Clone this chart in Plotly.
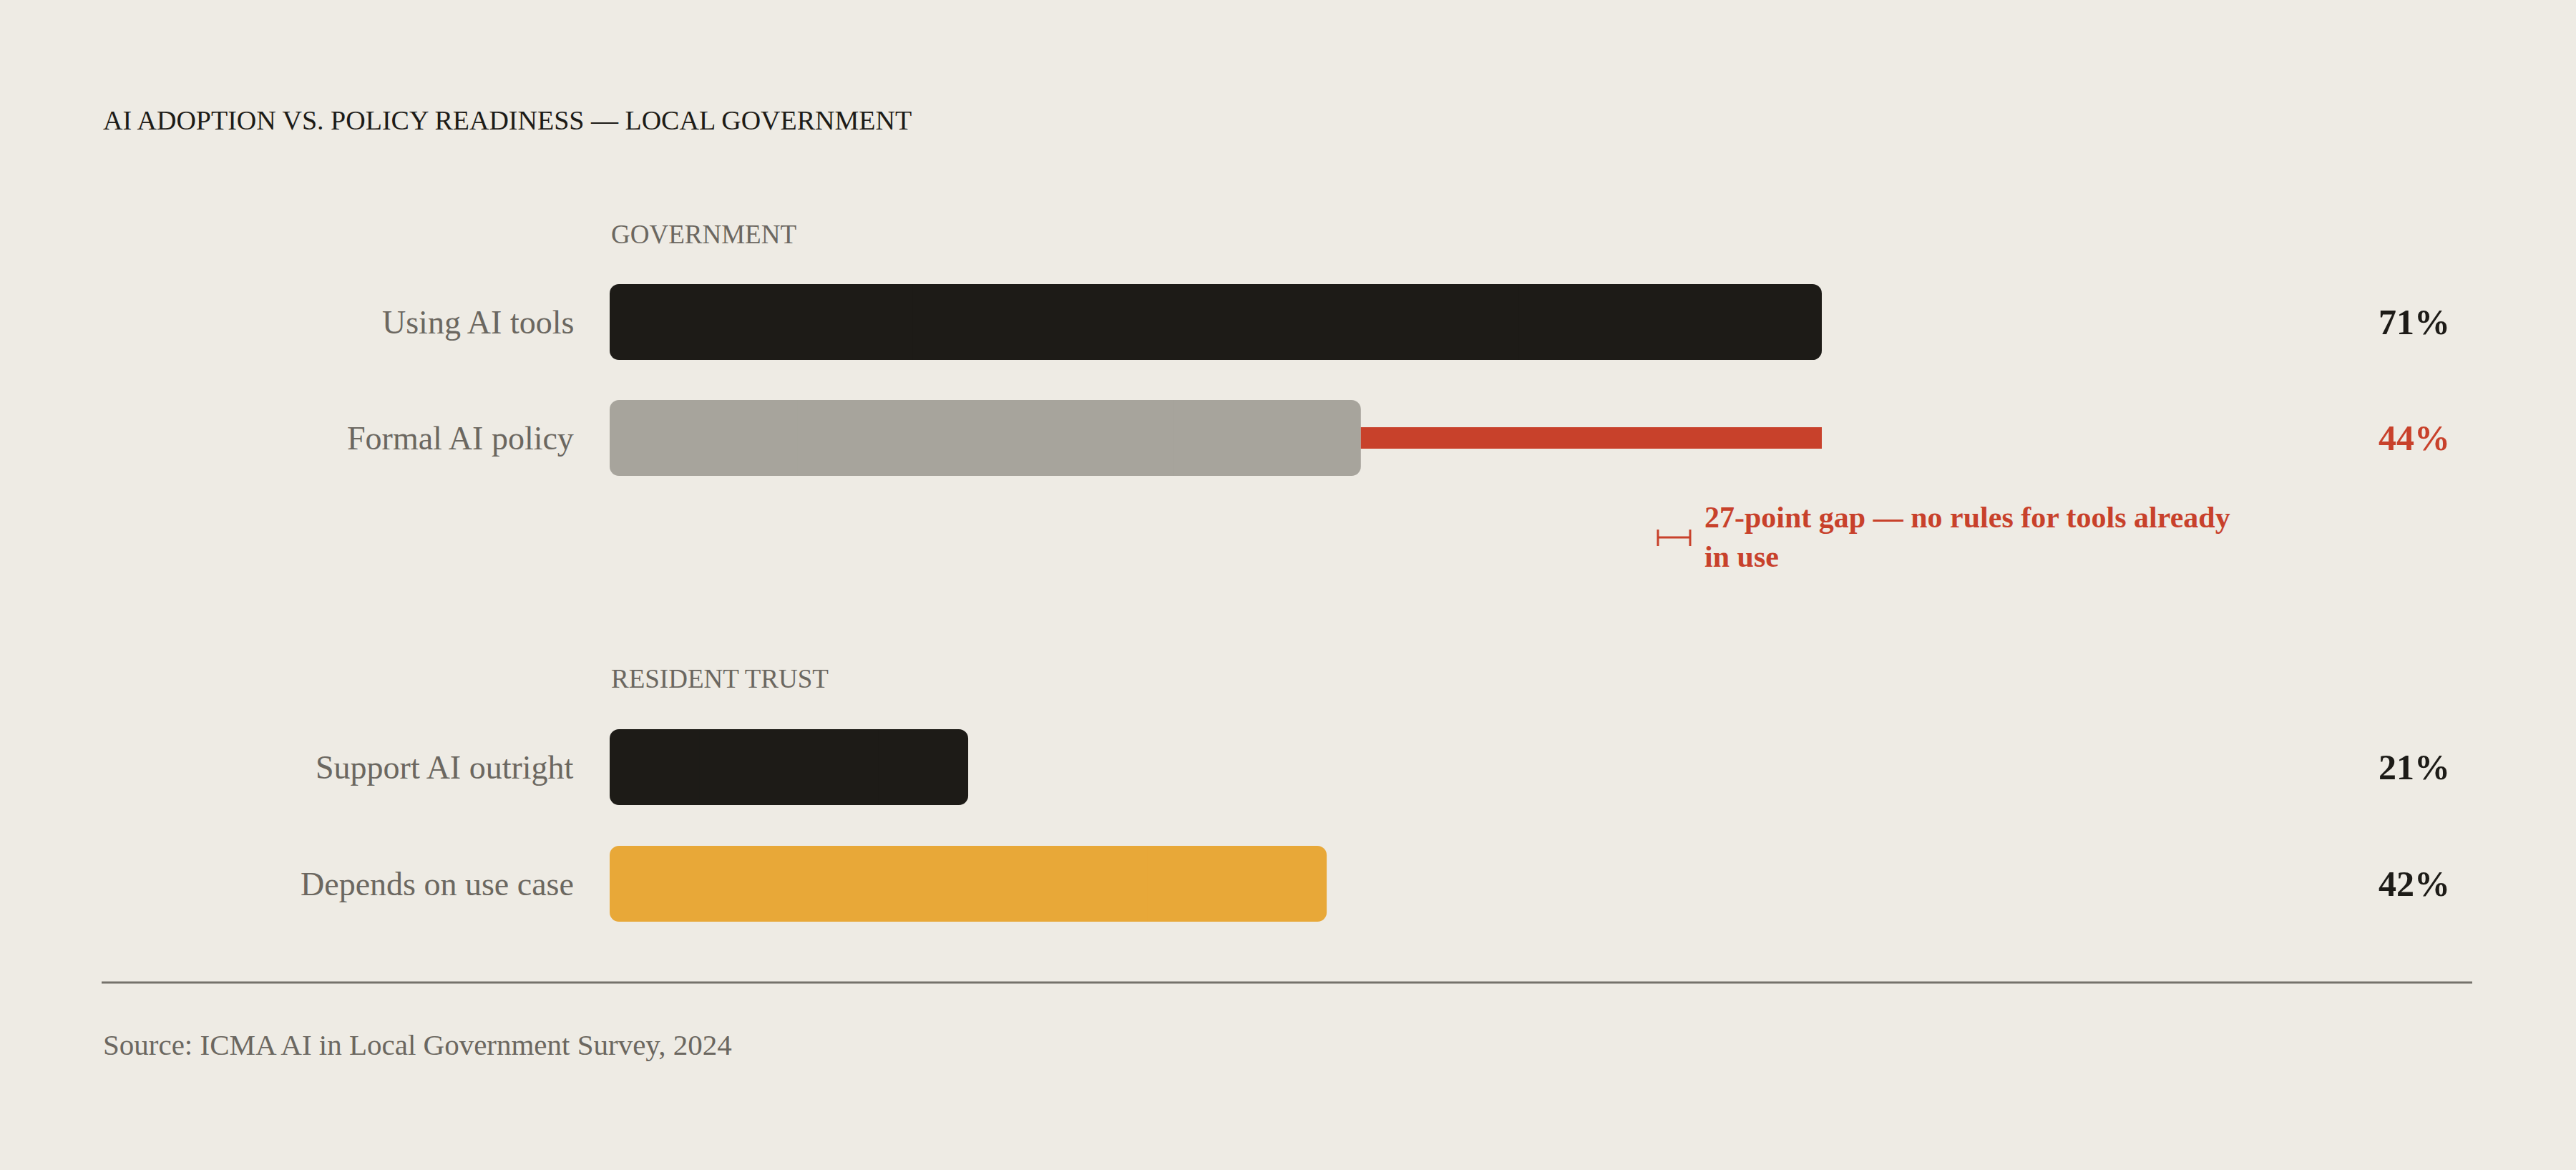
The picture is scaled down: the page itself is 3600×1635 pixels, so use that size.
import plotly.graph_objects as go

# data
labels = ["Using AI tools", "Formal AI policy", "Support AI outright", "Depends on use case"]
values = [71, 44, 21, 42]
value_text = ["71%", "44%", "21%", "42%"]
sections = ["GOVERNMENT", "RESIDENT TRUST"]
gap_note = "27-point gap — no rules for tools already<br>in use"

# layout (page pixels, y measured from top)
W, H = 3600, 1635
row_y = [450, 612, 1072, 1235]
section_y = [327, 948]
bar_colors = ["#1d1b17", "#a7a49c", "#1d1b17", "#e8a838"]
value_colors = ["#1d1b17", "#c8412b", "#1d1b17", "#1d1b17"]
bg = "#eeebe4"
ink = "#1d1b17"
muted = "#6b6760"
red = "#c8412b"
font = "Liberation Serif"

x0_px = 852
k = (2546 - 852) / 71  # pixels per percentage point

fig = go.Figure()

# bars: left half rounded on the left, right half rounded on the right,
# plain middle piece hides the join
half = [v / 2 for v in values]
fig.add_trace(go.Bar(
    y=row_y, x=[-h for h in half], base=half, orientation="h", width=106,
    marker=dict(color=bar_colors, line=dict(width=0), cornerradius=13),
    hoverinfo="skip", showlegend=False,
))
fig.add_trace(go.Bar(
    y=row_y, x=half, base=half, orientation="h", width=106,
    marker=dict(color=bar_colors, line=dict(width=0), cornerradius=13),
    hoverinfo="skip", showlegend=False,
))
fig.add_trace(go.Bar(
    y=row_y, x=[v / 2 for v in values], base=[v / 4 for v in values],
    orientation="h", width=106,
    marker=dict(color=bar_colors, line=dict(width=0)),
    hoverinfo="skip", showlegend=False,
))

# gap between adoption and policy
fig.add_trace(go.Bar(
    y=[row_y[1]], x=[values[0] - values[1]], base=[values[1]],
    orientation="h", width=30,
    marker=dict(color=red, line=dict(width=0)),
    hoverinfo="skip", showlegend=False,
))

ann = []
ann.append(dict(x=142 / W, xref="paper", y=168, yref="y", text="AI ADOPTION VS. POLICY READINESS — LOCAL GOVERNMENT",
                showarrow=False, xanchor="left", yanchor="middle",
                font=dict(family=font, size=38, color=ink)))
for s, sy in zip(sections, section_y):
    ann.append(dict(x=x0_px / W, xref="paper", y=sy, yref="y", text=s, showarrow=False,
                    xanchor="left", yanchor="middle", font=dict(family=font, size=37, color=muted)))
for lab, ry, vt, vc in zip(labels, row_y, value_text, value_colors):
    ann.append(dict(x=804 / W, xref="paper", y=ry, yref="y", text=lab, showarrow=False,
                    xanchor="right", yanchor="middle", font=dict(family=font, size=46, color=muted)))
    ann.append(dict(x=3322 / W, xref="paper", y=ry, yref="y", text="<b>" + vt + "</b>", showarrow=False,
                    xanchor="left", yanchor="middle", font=dict(family=font, size=50, color=vc)))
ann.append(dict(x=2380 / W, xref="paper", y=698, yref="y", text="<b>" + gap_note + "</b>", showarrow=False,
                xanchor="left", yanchor="top", align="left",
                font=dict(family=font, size=42, color=red)))
ann.append(dict(x=142 / W, xref="paper", y=1460, yref="y", text="Source: ICMA AI in Local Government Survey, 2024",
                showarrow=False, xanchor="left", yanchor="middle",
                font=dict(family=font, size=41, color=muted)))

shapes = [
    # bracket icon
    dict(type="line", xref="paper", yref="y", x0=2317 / W, x1=2362 / W, y0=751, y1=751, line=dict(color=red, width=3)),
    dict(type="line", xref="paper", yref="y", x0=2317 / W, x1=2317 / W, y0=740, y1=763, line=dict(color=red, width=3)),
    dict(type="line", xref="paper", yref="y", x0=2362 / W, x1=2362 / W, y0=740, y1=763, line=dict(color=red, width=3)),
    # footer rule
    dict(type="line", xref="paper", yref="y", x0=142 / W, x1=3455 / W, y0=1373, y1=1373, line=dict(color="#75726b", width=3)),
]

fig.update_layout(
    width=W, height=H,
    margin=dict(l=0, r=0, t=0, b=0),
    paper_bgcolor=bg, plot_bgcolor=bg,
    barmode="overlay",
    xaxis=dict(range=[-x0_px / k, (W - x0_px) / k], visible=False, fixedrange=True),
    yaxis=dict(range=[H, 0], visible=False, fixedrange=True),
    annotations=ann, shapes=shapes,
    hovermode=False,
)

fig.write_html("out.html", config={"displayModeBar": False},
               post_script="document.body.style.margin='0';")
